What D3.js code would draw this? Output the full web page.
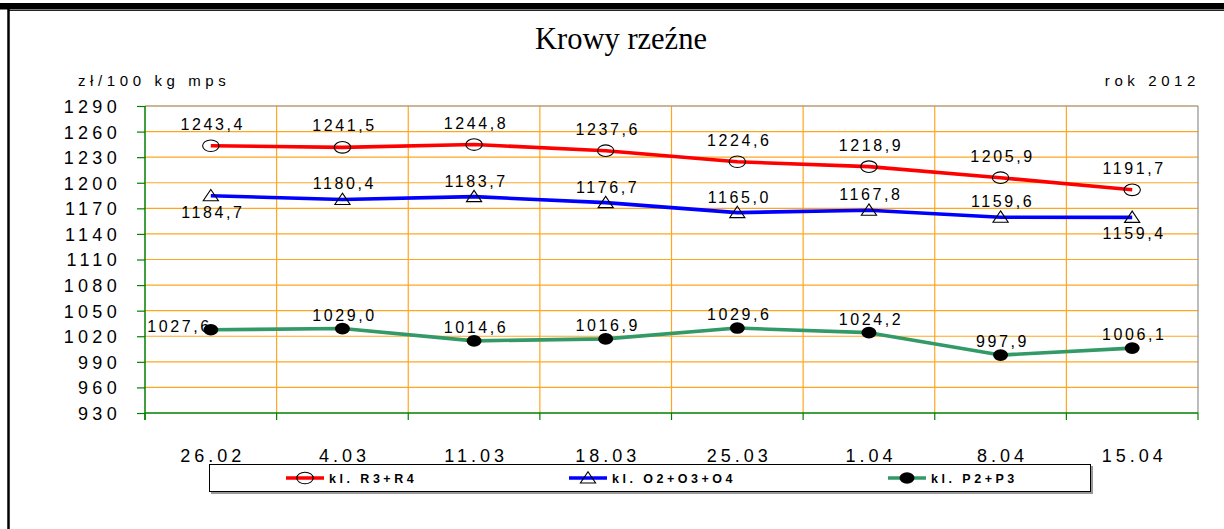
<!DOCTYPE html>
<html>
<head>
<meta charset="utf-8">
<script src="https://cdn.jsdelivr.net/npm/d3@7.9.0/dist/d3.min.js"></script>
<style>
  body { margin: 0; background: #fff; }
  svg { display: block; }
</style>
</head>
<body>
<div id="chart"></div>
<script>
// ---------- DATA ----------
const weeks = ["26.02", "4.03", "11.03", "18.03", "25.03", "1.04", "8.04", "15.04"];
const r3r4 = [1243.4, 1241.5, 1244.8, 1237.6, 1224.6, 1218.9, 1205.9, 1191.7];
const o2o4 = [1184.7, 1180.4, 1183.7, 1176.7, 1165.0, 1167.8, 1159.6, 1159.4];
const p2p3 = [1027.6, 1029.0, 1014.6, 1016.9, 1029.6, 1024.2, 997.9, 1006.1];
const yTicks = d3.range(930, 1291, 30);
const seriesNames = ["kl. R3+R4", "kl. O2+O3+O4", "kl. P2+P3"];

// label side for each point ("up", "down", "left")
const r3r4Side = ["up", "up", "up", "up", "up", "up", "up", "up"];
const o2o4Side = ["down", "up", "up", "up", "up", "up", "up", "down"];
const p2p3Side = ["left", "up", "up", "up", "up", "up", "up", "up"];

const series = [
  { name: seriesNames[0], values: r3r4, side: r3r4Side, color: "#ff0000", marker: "ellipse", up: -16, down: 20 },
  { name: seriesNames[1], values: o2o4, side: o2o4Side, color: "#0000ff", marker: "triangle", up: -10, down: 22 },
  { name: seriesNames[2], values: p2p3, side: p2p3Side, color: "#339966", marker: "dot", up: -8, down: 20 }
];

// ---------- LAYOUT ----------
const W = 1224, H = 529;
const plot = { left: 145, right: 1198, top: 106, bottom: 413 };

const svg = d3.select("#chart").append("svg")
  .attr("width", W).attr("height", H);

// frame
svg.append("rect").attr("x", 0).attr("y", 3).attr("width", W).attr("height", 6.5).attr("fill", "#000");
svg.append("line").attr("x1", 8).attr("x2", W).attr("y1", 10.5).attr("y2", 10.5)
  .attr("stroke", "#222").attr("stroke-width", 1);
svg.append("line").attr("x1", 8.5).attr("x2", 8.5).attr("y1", 9).attr("y2", H)
  .attr("stroke", "#000").attr("stroke-width", 2.5);

// title
svg.append("text")
  .attr("x", 621).attr("y", 49)
  .attr("text-anchor", "middle")
  .attr("font-family", "'Liberation Serif', 'Times New Roman', serif")
  .attr("font-size", 30.5)
  .text("Krowy rzeźne");

const smallText = (x, y, txt, anchor) => svg.append("text")
  .attr("x", x).attr("y", y)
  .attr("text-anchor", anchor)
  .attr("font-family", "'Liberation Sans', Arial, sans-serif")
  .attr("font-size", 15)
  .attr("letter-spacing", 4.6)
  .text(txt);

smallText(78, 86, "zł/100 kg mps", "start");
smallText(1200, 86, "rok 2012", "end");

// ---------- SCALES ----------
const x = d3.scaleBand().domain(weeks).range([plot.left, plot.right]).padding(0);
const y = d3.scaleLinear().domain([930, 1290]).range([plot.bottom, plot.top]);
const cx = d => x(d) + x.bandwidth() / 2;

// gridlines
const grid = svg.append("g");
grid.selectAll(".hgrid")
  .data(yTicks.filter(t => t > 930 && t < 1290))
  .join("line")
  .attr("x1", plot.left).attr("x2", plot.right)
  .attr("y1", d => y(d)).attr("y2", d => y(d))
  .attr("stroke", "#ffa620").attr("stroke-width", 1.2);
grid.selectAll(".vgrid")
  .data(weeks.slice(1))
  .join("line")
  .attr("x1", d => x(d)).attr("x2", d => x(d))
  .attr("y1", plot.top).attr("y2", plot.bottom)
  .attr("stroke", "#ffa620").attr("stroke-width", 1.2);

// plot border (top / right)
svg.append("line").attr("x1", plot.left).attr("x2", plot.right)
  .attr("y1", y(1290)).attr("y2", y(1290)).attr("stroke", "#b89c74").attr("stroke-width", 1.5);
svg.append("line").attr("x1", plot.right).attr("x2", plot.right)
  .attr("y1", plot.top).attr("y2", plot.bottom).attr("stroke", "#909090").attr("stroke-width", 1.2);

// ---------- AXES ----------
const yAxis = svg.append("g")
  .attr("transform", `translate(${plot.left},0)`)
  .call(d3.axisLeft(y).tickValues(yTicks).tickSize(8).tickPadding(16).tickFormat(d3.format("d")));
yAxis.select(".domain").attr("stroke", "#008000").attr("stroke-width", 1.5)
  .attr("d", `M0,${plot.top}V${plot.bottom + 7}`);
yAxis.selectAll(".tick line").attr("stroke", "#008000").attr("stroke-width", 1.2);
yAxis.selectAll(".tick text")
  .attr("font-family", "'Liberation Sans', Arial, sans-serif")
  .attr("font-size", 18).attr("letter-spacing", 4.3).attr("fill", "#000")
  .attr("dy", "0.36em");

const xAxis = svg.append("g")
  .attr("transform", `translate(0,${plot.bottom})`)
  .call(d3.axisBottom(x).tickSize(0).tickPadding(36));
xAxis.select(".domain").attr("stroke", "#008000").attr("stroke-width", 1.5)
  .attr("d", `M${plot.left},0H${plot.right}`);
xAxis.selectAll(".tick text")
  .attr("font-family", "'Liberation Sans', Arial, sans-serif")
  .attr("font-size", 18).attr("letter-spacing", 4).attr("fill", "#000")
  .attr("dx", 2);
// category boundary ticks
xAxis.selectAll(".bound")
  .data(weeks.concat(["end"]))
  .join("line")
  .attr("x1", (d, i) => i < weeks.length ? x(d) : plot.right)
  .attr("x2", (d, i) => i < weeks.length ? x(d) : plot.right)
  .attr("y1", 0).attr("y2", 7)
  .attr("stroke", "#008000").attr("stroke-width", 1.2);

// ---------- MARKERS ----------
function drawMarker(g, type, px, py) {
  if (type === "ellipse") {
    g.append("ellipse").attr("cx", px).attr("cy", py).attr("rx", 8.2).attr("ry", 5.8)
      .attr("fill", "none").attr("stroke", "#000").attr("stroke-width", 1.1);
  } else if (type === "triangle") {
    g.append("path")
      .attr("d", `M${px},${py - 6.3}L${px + 7.6},${py + 5}L${px - 7.6},${py + 5}Z`)
      .attr("fill", "none").attr("stroke", "#000").attr("stroke-width", 1.1);
  } else {
    g.append("ellipse").attr("cx", px).attr("cy", py).attr("rx", 7.5).attr("ry", 5.8)
      .attr("fill", "#000");
  }
}

const fmt = v => v.toFixed(1).replace(".", ",");
const line = d3.line().x(d => cx(d.week)).y(d => y(d.value));

series.forEach(s => {
  const pts = weeks.map((w, i) => ({ week: w, value: s.values[i], side: s.side[i] }));
  const g = svg.append("g");
  g.append("path").datum(pts)
    .attr("d", line)
    .attr("fill", "none").attr("stroke", s.color).attr("stroke-width", 3.6)
    .attr("stroke-linejoin", "round");
  pts.forEach(p => drawMarker(g, s.marker, cx(p.week), y(p.value)));
  g.selectAll(".lbl").data(pts).join("text")
    .attr("x", d => d.side === "left" ? cx(d.week) + 1 : cx(d.week) + 2)
    .attr("y", d => y(d.value) + (d.side === "up" ? s.up : d.side === "down" ? s.down : 2))
    .attr("text-anchor", d => d.side === "left" ? "end" : "middle")
    .attr("font-family", "'Liberation Sans', Arial, sans-serif")
    .attr("font-size", 16).attr("letter-spacing", 2.6).attr("fill", "#000")
    .text(d => fmt(d.value));
});

// ---------- LEGEND ----------
const lg = svg.append("g");
lg.append("rect").attr("x", 211).attr("y", 466).attr("width", 882).attr("height", 28).attr("fill", "#999");
lg.append("rect").attr("x", 209.5).attr("y", 464.5).attr("width", 881).attr("height", 27)
  .attr("fill", "#fff").attr("stroke", "#000").attr("stroke-width", 1);
const legendX = [286, 569, 888];
series.forEach((s, i) => {
  const lx = legendX[i], ly = 478;
  lg.append("line").attr("x1", lx).attr("x2", lx + 38).attr("y1", ly).attr("y2", ly)
    .attr("stroke", s.color).attr("stroke-width", 3.6);
  drawMarker(lg, s.marker, lx + 19, ly);
  lg.append("text")
    .attr("x", lx + 43).attr("y", ly + 5)
    .attr("font-family", "'Liberation Sans', Arial, sans-serif")
    .attr("font-weight", "bold").attr("font-size", 12.5).attr("letter-spacing", 3.5)
    .text(s.name);
});
</script>
</body>
</html>
